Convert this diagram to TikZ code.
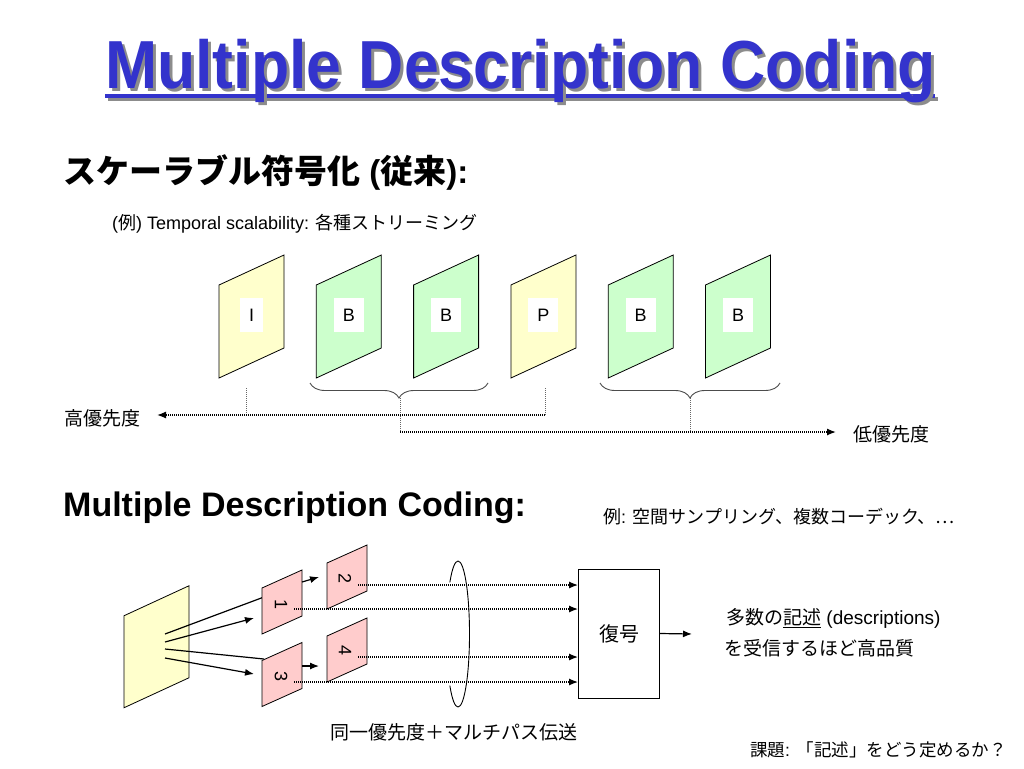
\documentclass[tikz,border=0pt]{standalone}
\usepackage{fontspec}
\setmainfont{Liberation Sans}
\newfontfamily\jp{Noto Sans CJK JP}
\usetikzlibrary{arrows.meta,decorations.pathreplacing}
\definecolor{tblue}{RGB}{51,51,204}
\definecolor{tshadow}{RGB}{140,140,140}
\definecolor{fyel}{RGB}{255,255,204}
\definecolor{fgrn}{RGB}{204,255,204}
\definecolor{fpnk}{RGB}{255,204,204}
\newcommand\J[1]{{\jp #1}}
\newcommand\fs[1]{\fontsize{#1}{#1}\selectfont}
\newcommand\pframe[6]{\draw[framestyle, fill=#6] ({#1-#3},{#2-#4/2+#5/2}) -- ({#1+#3},{#2-#4/2-#5/2}) -- ({#1+#3},{#2+#4/2-#5/2}) -- ({#1-#3},{#2+#4/2+#5/2}) -- cycle;}
\newcommand\titletext{\scalebox{0.92}[1]{Multiple Description Coding}}
\begin{document}
\begin{tikzpicture}[x=1pt,y=-1pt,
  framestyle/.style={draw=black, line width=0.8pt},
  txt/.style={anchor=west, inner sep=0pt},
  lbl/.style={fill=white, inner xsep=9pt, inner ysep=5pt, minimum height=34pt, minimum width=19pt, font=\fs{18}},
  digit/.style={inner sep=0pt, font=\fs{18}, rotate=-90},
  dotline/.style={draw=black, line width=1.3pt, dash pattern=on 1pt off 1pt},
  vline/.style={draw=black!60, line width=0.8pt, dash pattern=on 1pt off 1pt},
  dotarrow/.style={dotline, -{Latex[length=9pt,width=7pt]}},
  solidarrow/.style={draw=black, line width=1.2pt, -{Latex[length=9pt,width=7pt]}},
  solidline/.style={draw=black, line width=1.2pt},
  bracestyle/.style={draw=black!70, line width=0.9pt, decorate, decoration={brace, amplitude=15pt}},
  ring/.style={draw=black, line width=0.9pt}
]
\useasboundingbox (0,0) rectangle (1024,768);
\fill[white] (0,0) rectangle (1024,768);

% ---------- title (with drop shadow) ----------
\draw[tshadow, line width=3.5pt] (108,99) -- (938,99);
\draw[tblue, line width=3.5pt] (105,96) -- (935,96);
\node[anchor=base west, inner sep=0pt, text=tblue, font=\bfseries\fs{68}] (title) at (105,88)
  {\rlap{\hspace{3pt}\raisebox{-3pt}{\color{tshadow}\titletext}}\titletext};

% ---------- scalable coding ----------
\node[txt, font=\bfseries\fs{33}] (h1) at (63,172) {\J{スケーラブル符号化} (\J{従来}):};
\node[txt, font=\fs{18}] (ex1) at (112,224) {(\J{例}) Temporal scalability: \J{各種ストリーミング}};

\pframe{251.5}{316.5}{32.5}{93}{30}{fyel}
\pframe{348.8}{316.5}{32.5}{93}{30}{fgrn}
\pframe{446.1}{316.5}{32.5}{93}{30}{fgrn}
\pframe{543.4}{316.5}{32.5}{93}{30}{fyel}
\pframe{640.7}{316.5}{32.5}{93}{30}{fgrn}
\pframe{738.0}{316.5}{32.5}{93}{30}{fgrn}
\node[lbl] (fI)  at (251.5,315) {I};
\node[lbl] (fB1) at (348.8,315) {B};
\node[lbl] (fB2) at (446.1,315) {B};
\node[lbl] (fP)  at (543.4,315) {P};
\node[lbl] (fB3) at (640.7,315) {B};
\node[lbl] (fB4) at (738.0,315) {B};

\draw[bracestyle, decoration={mirror}] (310,383) -- (488,383);
\draw[bracestyle, decoration={mirror}] (600,383) -- (780,383);

\coordinate (iTop) at (246,388);
\coordinate (iBot) at (246,415);
\coordinate (pTop) at (545,388);
\coordinate (pBot) at (545,415);
\coordinate (b1Tip) at (400,398);
\coordinate (b1Bot) at (400,432);
\coordinate (b2Tip) at (690,398);
\coordinate (b2Bot) at (690,432);
\coordinate (hiEnd) at (157,415);
\coordinate (loEnd) at (836,432);

\draw[vline] (iTop) -- (iBot);
\draw[vline] (pTop) -- (pBot);
\draw[vline] (b1Tip) -- (b1Bot);
\draw[vline] (b2Tip) -- (b2Bot);
\draw[dotarrow] (pBot) -- (hiEnd);
\draw[dotarrow] (b1Bot) -- (loEnd);

\node[txt, font=\fs{19}] (hi) at (64,418) {\J{高優先度}};
\node[txt, font=\fs{19}] (lo) at (853,434) {\J{低優先度}};

% ---------- MDC ----------
\node[txt, font=\bfseries\fs{34}] (h2) at (63,508) {Multiple Description Coding:};
\node[txt, font=\fs{18}] (ex2) at (603,517) {\J{例}: \J{空間サンプリング、複数コーデック、…}};

\pframe{156.5}{646.75}{32.5}{92}{30}{fyel}

\coordinate (s1) at (165,634);
\coordinate (s2) at (165,642);
\coordinate (s3) at (165,649);
\coordinate (s4) at (165,658);
\coordinate (e1) at (264,597);
\coordinate (e2) at (254,618);
\coordinate (e3) at (264,659);
\coordinate (e4) at (254,674);
\draw[solidline] (s1) -- (e1);
\draw[solidarrow] (s2) -- (e2);
\draw[solidline] (s3) -- (e3);
\draw[solidarrow] (s4) -- (e4);

\pframe{282}{602}{20}{46}{18}{fpnk}
\pframe{347}{577}{20}{46}{18}{fpnk}
\pframe{282}{674.5}{20}{46}{18}{fpnk}
\pframe{347}{650}{20}{46}{18}{fpnk}
\node[digit] (n1) at (281,604) {1};
\node[digit] (n2) at (345,578) {2};
\node[digit] (n3) at (281,676) {3};
\node[digit] (n4) at (345,650) {4};

\coordinate (a12s) at (302,582);
\coordinate (a12e) at (319,577);
\coordinate (a34s) at (302,666);
\coordinate (a34e) at (319,666);
\draw[solidarrow] (a12s) -- (a12e);
\draw[solidarrow] (a34s) -- (a34e);

\node[draw=black, line width=0.9pt, minimum width=81pt, minimum height=129pt, inner sep=0pt, font=\fs{20}] (dec) at (619,633.5) {\J{復号}};

\coordinate (d2) at (358,585);
\coordinate (d1) at (294,609);
\coordinate (d4) at (358,657);
\coordinate (d3) at (294,682);
\draw[dotarrow] (d2) -- (d2 -| dec.west);
\draw[dotarrow] (d1) -- (d1 -| dec.west);
\draw[dotarrow] (d4) -- (d4 -| dec.west);
\draw[dotarrow] (d3) -- (d3 -| dec.west);

\draw[ring] (458,634) ++(-90:11.5 and 73) arc[start angle=-90, end angle=90, x radius=11.5, y radius=73];
\draw[ring] (458,634) ++(-90:11.5 and 73) arc[start angle=-90, end angle=-135, x radius=11.5, y radius=73];
\draw[ring] (458,634) ++(90:11.5 and 73) arc[start angle=90, end angle=135, x radius=11.5, y radius=73];

\coordinate (outEnd) at (692,634);
\draw[solidarrow] (dec.east) -- (outEnd);

\node[txt, font=\fs{19}] (desc1) at (726,618) {\J{多数の\underline{記述}} (descriptions)};
\node[txt, font=\fs{19}] (desc2) at (724,648) {\J{を受信するほど高品質}};

\node[txt, font=\fs{19}] (cap1) at (330,732) {\J{同一優先度＋マルチパス伝送}};
\node[txt, font=\fs{17.5}] (cap2) at (750,750) {\J{課題}: \J{「記述」をどう定めるか？}};
\end{tikzpicture}
\end{document}
